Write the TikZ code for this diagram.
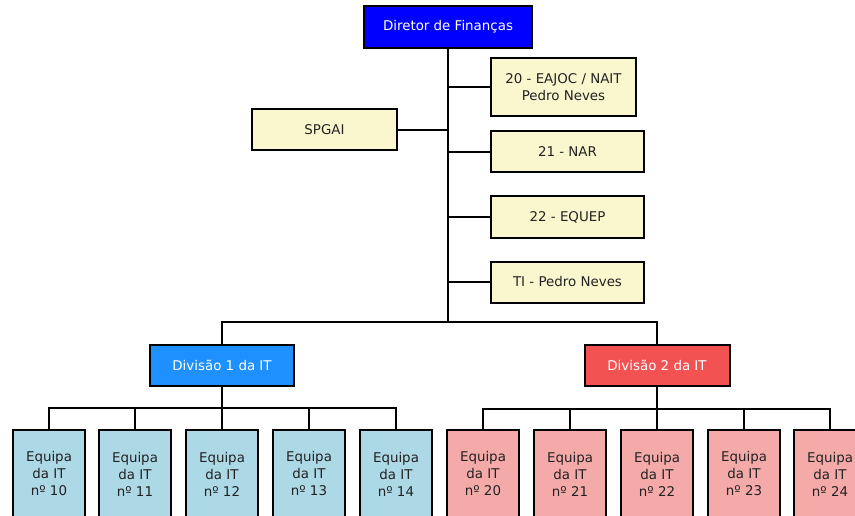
\documentclass[tikz,border=0pt]{standalone}
\usepackage{fontspec}
\setmainfont{DejaVu Sans}
\definecolor{dirblue}{RGB}{0,0,255}
\definecolor{boxyellow}{RGB}{250,246,206}
\definecolor{div1blue}{RGB}{30,144,255}
\definecolor{div2red}{RGB}{242,82,82}
\definecolor{teamblue}{RGB}{173,216,230}
\definecolor{teampink}{RGB}{245,170,170}
\definecolor{txt}{RGB}{34,34,34}
\begin{document}
\begin{tikzpicture}[x=1pt,y=1pt,
  box/.style={draw=black, line width=2pt, inner sep=0pt, align=center,
    font=\fontsize{13.4}{17}\selectfont, text=txt},
  ybox/.style={box, fill=boxyellow},
  team/.style={box, minimum width=72, minimum height=88},
  conn/.style={line width=2pt, draw=black}]
\useasboundingbox (0,0) rectangle (855,-516);
\begin{scope}
\clip (0,0) rectangle (855,-516);
\node[box, fill=dirblue, text=white, minimum width=168, minimum height=42] (dir) at (448,-27) {Diretor de Finanças};
\node[ybox, minimum width=145, minimum height=58] (e20) at (563.5,-87) {20 - EAJOC / NAIT\\Pedro Neves};
\node[ybox, minimum width=145, minimum height=41] (spgai) at (324.5,-130) {SPGAI};
\node[ybox, minimum width=153, minimum height=41] (nar) at (567.5,-152) {21 - NAR};
\node[ybox, minimum width=153, minimum height=42] (equep) at (567.5,-217) {22 - EQUEP};
\node[ybox, minimum width=153, minimum height=41] (ti) at (567.5,-282) {TI - Pedro Neves};
\node[box, fill=div1blue, text=white, minimum width=144, minimum height=41] (d1) at (222,-365) {Divisão 1 da IT};
\node[box, fill=div2red, text=white, minimum width=145, minimum height=41] (d2) at (657,-365) {Divisão 2 da IT};
\foreach \n/\x in {10/49,11/135,12/222,13/309,14/396}
  \node[team, fill=teamblue] (t\n) at (\x,-474) {Equipa\\da IT\\nº \n};
\foreach \n/\x in {20/483,21/570,22/657,23/744,24/830}
  \node[team, fill=teampink] (t\n) at (\x,-474) {Equipa\\da IT\\nº \n};
\coordinate (j) at (448,-322);
\coordinate (b1) at (222,-408);
\coordinate (b2) at (657,-409);
\draw[conn] (dir.south) -- (j);
\foreach \b in {e20,nar,equep,ti}
  \draw[conn] (\b.west) -- (\b.west -| j);
\draw[conn] (spgai.east) -- (spgai.east -| j);
\draw[conn] (d1.north) |- (j) -| (d2.north);
\draw[conn] (d1.south) -- (b1);
\draw[conn] (d2.south) -- (b2);
\foreach \n in {10,11,12,13,14}
  \draw[conn] (t\n.north) |- (b1);
\foreach \n in {20,21,22,23,24}
  \draw[conn] (t\n.north) |- (b2);
\end{scope}
\end{tikzpicture}
\end{document}
